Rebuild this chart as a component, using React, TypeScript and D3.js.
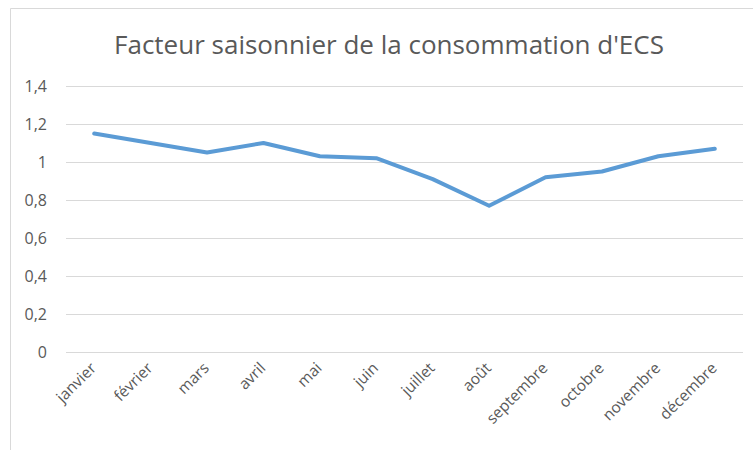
import React, { useEffect, useRef } from "react";
import * as d3 from "d3";

const width = 753;
const height = 450;
const margin = { left: 66, right: 10, top: 86, bottom: 98 };

const months = [
  "janvier", "février", "mars", "avril", "mai", "juin",
  "juillet", "août", "septembre", "octobre", "novembre", "décembre",
];
const factors = [1.15, 1.1, 1.05, 1.1, 1.03, 1.02, 0.91, 0.77, 0.92, 0.95, 1.03, 1.07];
const yTicks = [0, 0.2, 0.4, 0.6, 0.8, 1, 1.2, 1.4];

const font = "'Open Sans', sans-serif";
const textColor = "#595959";

const App = () => {
  const ref = useRef<SVGSVGElement>(null);

  useEffect(() => {
    const svg = d3.select(ref.current);
    svg.selectAll("*").remove();

    // chart frame
    svg.append("path")
      .attr("d", `M10.5,${height} V8.5 H${width}`)
      .attr("fill", "none")
      .attr("stroke", "#d9d9d9");

    svg.append("text")
      .attr("x", 389)
      .attr("y", 54)
      .attr("text-anchor", "middle")
      .attr("font-family", font)
      .attr("font-size", 26)
      .attr("fill", textColor)
      .text("Facteur saisonnier de la consommation d'ECS");

    const x = d3.scaleBand()
      .domain(months)
      .range([margin.left, width - margin.right]);

    const y = d3.scaleLinear()
      .domain([0, 1.4])
      .range([height - margin.bottom, margin.top]);

    const fmt = (v: number) => d3.format("~g")(v).replace(".", ",");

    const yAxis = d3.axisLeft(y).tickValues(yTicks).tickFormat(d => fmt(+d))
      .tickSize(-(width - margin.left - margin.right)).tickPadding(19);
    svg.append("g")
      .attr("transform", `translate(${margin.left},0)`)
      .call(yAxis)
      .call(g => g.select(".domain").remove())
      .call(g => g.selectAll(".tick line").attr("stroke", "#d9d9d9").attr("stroke-width", 1.2))
      .call(g => g.selectAll(".tick text")
        .attr("fill", textColor)
        .attr("font-family", font)
        .attr("font-size", 16));

    const xAxis = d3.axisBottom(x).tickSize(0).tickPadding(0);
    svg.append("g")
      .attr("transform", `translate(0,${height - margin.bottom})`)
      .call(xAxis)
      .call(g => g.select(".domain").remove())
      .call(g => g.selectAll(".tick text")
        .attr("fill", textColor)
        .attr("font-family", font)
        .attr("font-size", 15.5)
        .attr("text-anchor", "end")
        .attr("y", 0)
        .attr("dy", 0)
        .attr("transform", "translate(3,17) rotate(-45)"));

    const line = d3.line<number>()
      .x((_, i) => (x(months[i]) ?? 0) + x.bandwidth() / 2)
      .y(d => y(d));

    svg.append("path")
      .datum(factors)
      .attr("fill", "none")
      .attr("stroke", "#5b9bd5")
      .attr("stroke-width", 4)
      .attr("stroke-linejoin", "round")
      .attr("stroke-linecap", "round")
      .attr("d", line);
  }, []);

  return (
    <svg
      ref={ref}
      width={width}
      height={height}
      viewBox={`0 0 ${width} ${height}`}
      style={{ position: "absolute", left: 0, top: 0, background: "#fff" }}
    />
  );
};

export default App;
